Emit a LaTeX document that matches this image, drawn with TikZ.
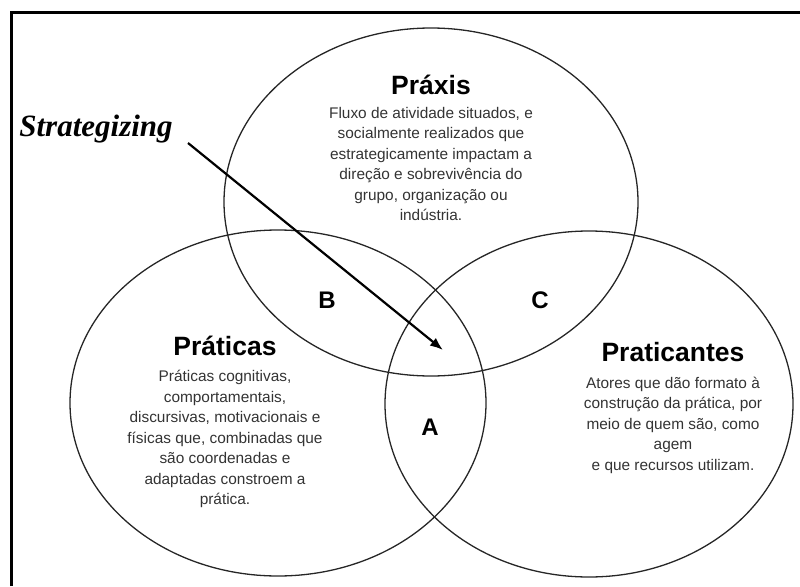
\documentclass[tikz,border=0pt]{standalone}
\usepackage{fontspec}
\setmainfont{Liberation Sans}
\newfontfamily\serifbi{Liberation Serif}
\usetikzlibrary{arrows.meta}
\begin{document}
\begin{tikzpicture}[x=1pt,y=-1pt,
  venn/.style={draw=black!85,line width=1.3pt},
  ctitle/.style={font=\fontsize{26.5}{30}\selectfont\bfseries},
  cdesc/.style={align=center,font=\fontsize{15.4}{20.5}\selectfont,text=black!80},
  zone/.style={font=\fontsize{24}{26}\selectfont\bfseries}]
\useasboundingbox(0,0)rectangle(800,586);
\draw[line width=3pt](11,586)--(11,13)--(800,13);
% circles
\draw[venn](431,202)ellipse(207pt and 174pt);
\draw[venn](278,403)ellipse(208pt and 173pt);
\draw[venn](589,404)ellipse(204pt and 173pt);
% top
\node[ctitle](praxis)at(431,85){Práxis};
\node[cdesc](praxisdesc)at(431,164){Fluxo de atividade situados, e\\socialmente realizados que\\estrategicamente impactam a\\direção e sobrevivência do\\grupo, organização ou\\indústria.};
% left
\node[ctitle](praticas)at(225,346){Práticas};
\node[cdesc](praticasdesc)at(225,439){Práticas cognitivas,\\comportamentais,\\discursivas, motivacionais e\\físicas que, combinadas que\\são coordenadas e\\adaptadas constroem a\\prática.};
% right
\node[ctitle](praticantes)at(673,352){Praticantes};
\node[cdesc](praticantesdesc)at(673,425){Atores que dão formato à\\construção da prática, por\\meio de quem são, como\\agem\\e que recursos utilizam.};
% zones
\node[zone](zb)at(327,300){B};
\node[zone](zc)at(540,300){C};
\node[zone](za)at(430,427){A};
% strategizing
\node[font=\fontsize{31}{34}\selectfont\serifbi\bfseries\itshape](strat)at(96,129){Strategizing};
\coordinate(sfrom)at(188,143);
\coordinate(sto)at(443,350);
\draw[line width=2.2pt,-{Latex[length=13pt,width=10pt]}](sfrom)--(sto);
\end{tikzpicture}
\end{document}
